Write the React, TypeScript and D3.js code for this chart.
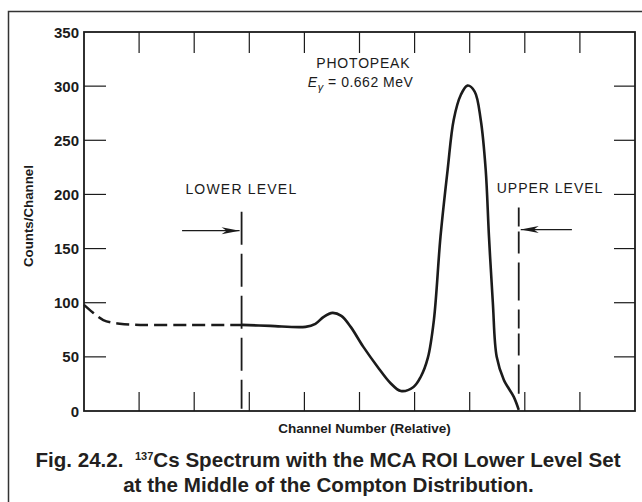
import React, { useEffect, useRef } from 'react';
import * as d3 from 'd3';

// relative channel (0..10) and counts
const bgChannel = [0, 0.16, 0.35, 0.65, 1.02, 1.93, 2.86];
const bgCounts = [98, 91, 84, 80.5, 79.5, 79.5, 79.5];

const channel = [2.86, 3.38, 4.02, 4.2, 4.35, 4.51, 4.67, 4.84, 5.07, 5.33, 5.56, 5.75, 5.98, 6.11, 6.24, 6.35, 6.47, 6.6, 6.71, 6.84, 6.96, 7.09, 7.2, 7.29, 7.35, 7.42, 7.49, 7.62, 7.8, 7.89];
const counts = [79.5, 78.6, 77.7, 80.5, 87, 90.6, 87.8, 77.7, 59.2, 40.7, 25.9, 18.5, 22.2, 31.4, 49, 84, 161, 223, 269, 292, 300.5, 295, 269, 223, 161, 100, 50, 28.7, 13, 1];

const yTicks = [0, 50, 100, 150, 200, 250, 300, 350];
const xTicks = [1, 2, 3, 4, 5, 6, 7, 8, 9];

const lowerLevel = 2.86;
const upperLevel = 7.89;

const W = 642;
const H = 502;
const ink = '#1b1b1b';
const font = 'Liberation Sans, Arial, sans-serif';

const x = d3.scaleLinear().domain([0, 10]).range([84, 635]);
const y = d3.scaleLinear().domain([0, 350]).range([411, 32]);

const drawAxes = (svg: any) => {
  // plot box
  svg.append('rect')
    .attr('x', x(0)).attr('y', y(350))
    .attr('width', x(10) - x(0)).attr('height', y(0) - y(350))
    .attr('fill', 'none').attr('stroke', ink).attr('stroke-width', 1.8);

  // y ticks, both sides, pointing inward
  yTicks.filter(t => t > 0 && t < 350).forEach(t => {
    svg.append('line').attr('x1', x(0)).attr('x2', x(0) + 22)
      .attr('y1', y(t)).attr('y2', y(t)).attr('stroke', ink).attr('stroke-width', 1.2);
    svg.append('line').attr('x1', x(10)).attr('x2', x(10) - 21)
      .attr('y1', y(t)).attr('y2', y(t)).attr('stroke', ink).attr('stroke-width', 1.2);
  });
  yTicks.forEach(t => {
    svg.append('text')
      .attr('x', x(0) - 5).attr('y', y(t) + 5.5)
      .attr('text-anchor', 'end')
      .attr('font-family', font)
      .attr('font-weight', 'bold').attr('font-size', 15)
      .attr('fill', ink)
      .text(t);
  });

  // x ticks top and bottom
  xTicks.forEach(t => {
    svg.append('line').attr('x1', x(t)).attr('x2', x(t))
      .attr('y1', y(350)).attr('y2', y(350) + 21).attr('stroke', ink).attr('stroke-width', 1.2);
    svg.append('line').attr('x1', x(t)).attr('x2', x(t))
      .attr('y1', y(0)).attr('y2', y(0) - 19).attr('stroke', ink).attr('stroke-width', 1.2);
  });

  svg.append('text')
    .attr('x', (x(0) + x(10)) / 2 + 5).attr('y', 433)
    .attr('text-anchor', 'middle')
    .attr('font-family', font)
    .attr('font-weight', 'bold').attr('font-size', 13.5)
    .attr('fill', ink)
    .text('Channel Number (Relative)');

  svg.append('text')
    .attr('transform', `translate(33,${y(180)}) rotate(-90)`)
    .attr('text-anchor', 'middle')
    .attr('font-family', font)
    .attr('font-weight', 'bold').attr('font-size', 13.3)
    .attr('fill', ink)
    .text('Counts/Channel');
};

const drawSpectrum = (svg: any) => {
  // background below lower level, dashed
  svg.append('path')
    .attr('d', d3.line<number>().x(d => x(d)).y((d, i) => y(bgCounts[i])).curve(d3.curveCatmullRom.alpha(0.5))(bgChannel))
    .attr('fill', 'none').attr('stroke', ink).attr('stroke-width', 2.5)
    .attr('stroke-dasharray', '13,6');

  svg.append('path')
    .attr('d', d3.line<number>().x(d => x(d)).y((d, i) => y(counts[i])).curve(d3.curveCatmullRom.alpha(0.5))(channel))
    .attr('fill', 'none').attr('stroke', ink).attr('stroke-width', 2.6)
    .attr('stroke-linejoin', 'round');
};

const arrowHead = (svg: any, tipX: number, tipY: number, dir: number) => {
  const len = 18;
  svg.append('path')
    .attr('d', `M${tipX},${tipY} L${tipX - dir * len},${tipY - 3.5} L${tipX - dir * (len - 5)},${tipY} L${tipX - dir * len},${tipY + 3.5} Z`)
    .attr('fill', ink);
};

const drawAnnotations = (svg: any) => {
  // lower level marker
  svg.append('line')
    .attr('x1', x(lowerLevel)).attr('x2', x(lowerLevel))
    .attr('y1', y(184)).attr('y2', y(2))
    .attr('stroke', ink).attr('stroke-width', 1.8)
    .attr('stroke-dasharray', '33,9');
  svg.append('line')
    .attr('x1', x(1.78)).attr('x2', x(lowerLevel) - 2)
    .attr('y1', y(166.5)).attr('y2', y(166.5))
    .attr('stroke', ink).attr('stroke-width', 1.2);
  arrowHead(svg, x(lowerLevel) - 2, y(166.5), 1);
  svg.append('text')
    .attr('x', x(1.84)).attr('y', y(200.6))
    .attr('font-family', font).attr('font-size', 14)
    .attr('letter-spacing', 1.2).attr('fill', ink)
    .text('LOWER LEVEL');

  // upper level marker
  svg.append('line')
    .attr('x1', x(upperLevel)).attr('x2', x(upperLevel))
    .attr('y1', y(188)).attr('y2', y(16))
    .attr('stroke', ink).attr('stroke-width', 1.8)
    .attr('stroke-dasharray', '19,5,22,9,38,9');
  svg.append('line')
    .attr('x1', x(8.855)).attr('x2', x(upperLevel) + 2)
    .attr('y1', y(167.5)).attr('y2', y(167.5))
    .attr('stroke', ink).attr('stroke-width', 1.2);
  arrowHead(svg, x(upperLevel) + 2, y(167.5), -1);
  svg.append('text')
    .attr('x', x(7.49)).attr('y', y(201.5))
    .attr('font-family', font).attr('font-size', 14)
    .attr('letter-spacing', 1).attr('fill', ink)
    .text('UPPER LEVEL');

  // photopeak label
  svg.append('text')
    .attr('x', x(5.07)).attr('y', y(317))
    .attr('text-anchor', 'middle')
    .attr('font-family', font).attr('font-size', 14)
    .attr('letter-spacing', 0.8).attr('fill', ink)
    .text('PHOTOPEAK');
  const e = svg.append('text')
    .attr('x', x(5.02)).attr('y', y(299.6))
    .attr('text-anchor', 'middle')
    .attr('font-family', font).attr('font-size', 14)
    .attr('letter-spacing', 0.5).attr('fill', ink);
  e.append('tspan').attr('font-style', 'italic').text('E');
  e.append('tspan').attr('font-style', 'italic').attr('font-size', 11).attr('dy', 4).text('γ');
  e.append('tspan').attr('dy', -4).text(' = 0.662 MeV');
};

const drawCaption = (svg: any) => {
  const c1 = svg.append('text')
    .attr('x', 328).attr('y', 467)
    .attr('text-anchor', 'middle')
    .attr('font-family', font).attr('font-weight', 'bold').attr('font-size', 20.6)
    .attr('fill', '#231f20')
    .attr('xml:space', 'preserve');
  c1.append('tspan').text('Fig. 24.2.  ');
  c1.append('tspan').attr('font-size', 11).attr('dy', -7).text('137');
  c1.append('tspan').attr('dy', 7).text('Cs Spectrum with the MCA ROI Lower Level Set');

  svg.append('text')
    .attr('x', 328.5).attr('y', 492)
    .attr('text-anchor', 'middle')
    .attr('font-family', font).attr('font-weight', 'bold').attr('font-size', 20.6)
    .attr('fill', '#231f20')
    .text('at the Middle of the Compton Distribution.');
};

const App = () => {
  const ref = useRef<SVGSVGElement | null>(null);

  useEffect(() => {
    const svg = d3.select(ref.current);
    svg.selectAll('*').remove();

    svg.append('rect').attr('width', W).attr('height', H).attr('fill', '#fff');
    // figure frame (right and bottom edges fall outside the picture)
    svg.append('rect')
      .attr('x', 8.5).attr('y', 11.5).attr('width', W + 20).attr('height', H + 20)
      .attr('fill', 'none').attr('stroke', '#333').attr('stroke-width', 1.5);

    drawAxes(svg);
    drawSpectrum(svg);
    drawAnnotations(svg);
    drawCaption(svg);
  }, []);

  return (
    <svg ref={ref} width={W} height={H}
      style={{ position: 'absolute', left: 0, top: 0, display: 'block' }} />
  );
};

export default App;
